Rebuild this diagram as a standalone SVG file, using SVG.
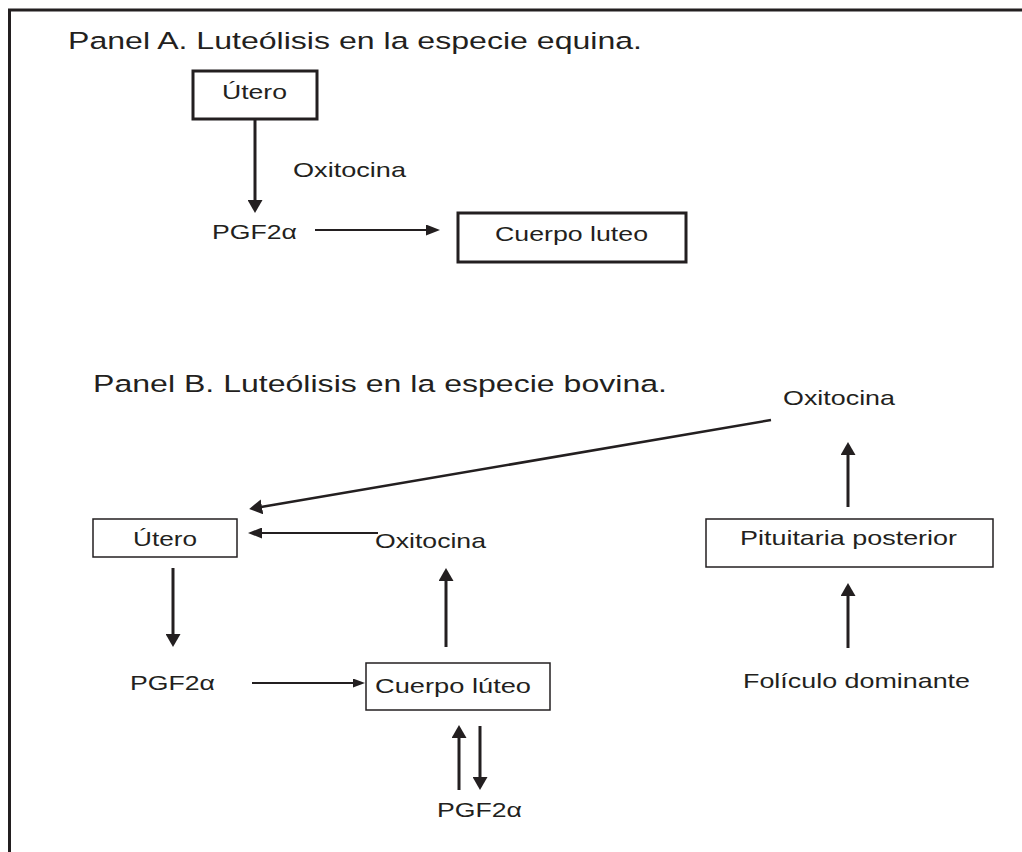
<svg xmlns="http://www.w3.org/2000/svg" width="1022" height="852" viewBox="0 0 1022 852">
<style>
text{font-family:"Liberation Sans",Arial,sans-serif;fill:#231f20}
.t{font-size:24.5px}
.l{font-size:21px}
.box{fill:none;stroke:#231f20}
.thick{stroke-width:3}
.thin{stroke-width:1.5}
.c line{stroke:#231f20}
</style>
<defs>
<marker id="big" markerUnits="userSpaceOnUse" markerWidth="14" markerHeight="15" refX="1" refY="7.5" orient="auto" viewBox="0 0 14 15">
<path d="M0,0 L13,7.5 L0,15 z" fill="#231f20"/>
</marker>
<marker id="small" markerUnits="userSpaceOnUse" markerWidth="15" markerHeight="11" refX="1" refY="5.5" orient="auto" viewBox="0 0 15 11">
<path d="M0,0 L14,5.5 L0,11 z" fill="#231f20"/>
</marker>
<marker id="tiny" markerUnits="userSpaceOnUse" markerWidth="13" markerHeight="9" refX="1" refY="4.5" orient="auto" viewBox="0 0 13 9">
<path d="M0,0 L12,4.5 L0,9 z" fill="#231f20"/>
</marker>
</defs>
<rect width="1022" height="852" fill="#fff"/>
<path d="M8,10 H1022 M9.5,10 V852" fill="none" stroke="#231f20" stroke-width="3"/>

<g id="titleA"><text class="t" x="68" y="49" textLength="574" lengthAdjust="spacingAndGlyphs">Panel A. Luteólisis en la especie equina.</text></g>
<g id="uteroA"><rect class="box thick" x="193" y="71" width="124" height="48"/><text class="l" x="222" y="99" textLength="65" lengthAdjust="spacingAndGlyphs">Útero</text></g>
<g id="oxiA"><text class="l" x="293" y="177" textLength="113" lengthAdjust="spacingAndGlyphs">Oxitocina</text></g>
<g id="pgfA"><text class="l" x="212" y="239" textLength="85" lengthAdjust="spacingAndGlyphs">PGF2α</text></g>
<g id="clA"><rect class="box thick" x="458" y="213" width="228" height="49"/><text class="l" x="495" y="241" textLength="153" lengthAdjust="spacingAndGlyphs">Cuerpo luteo</text></g>

<g id="titleB"><text class="t" x="93" y="392" textLength="574" lengthAdjust="spacingAndGlyphs">Panel B. Luteólisis en la especie bovina.</text></g>
<g id="oxiTop"><text class="l" x="783" y="405" textLength="112" lengthAdjust="spacingAndGlyphs">Oxitocina</text></g>
<g id="uteroB"><rect class="box thin" x="93" y="519" width="144" height="38"/><text class="l" x="133" y="546" textLength="64" lengthAdjust="spacingAndGlyphs">Útero</text></g>
<g id="oxiMid"><text class="l" x="375" y="548" textLength="111" lengthAdjust="spacingAndGlyphs">Oxitocina</text></g>
<g id="pit"><rect class="box thin" x="706" y="519" width="287" height="48"/><text class="l" x="740" y="545" textLength="217" lengthAdjust="spacingAndGlyphs">Pituitaria posterior</text></g>
<g id="pgfB"><text class="l" x="130" y="690" textLength="85" lengthAdjust="spacingAndGlyphs">PGF2α</text></g>
<g id="clB"><rect class="box thin" x="366" y="663" width="184" height="47"/><text class="l" x="375" y="693" textLength="156" lengthAdjust="spacingAndGlyphs">Cuerpo lúteo</text></g>
<g id="fol"><text class="l" x="743" y="688" textLength="227" lengthAdjust="spacingAndGlyphs">Folículo dominante</text></g>
<g id="pgfBottom"><text class="l" x="437" y="817" textLength="85" lengthAdjust="spacingAndGlyphs">PGF2α</text></g>

<g id="connectors" class="c">
<line x1="255" y1="119" x2="255" y2="201" stroke-width="3" marker-end="url(#big)"/>
<line x1="315" y1="230" x2="427" y2="230" stroke-width="2" marker-end="url(#small)"/>
<line x1="771" y1="420" x2="261" y2="507" stroke-width="2.5" marker-end="url(#big)"/>
<line x1="378" y1="533" x2="261" y2="533" stroke-width="2" marker-end="url(#small)"/>
<line x1="173" y1="568" x2="173" y2="635" stroke-width="3" marker-end="url(#big)"/>
<line x1="252" y1="683" x2="354" y2="683" stroke-width="2" marker-end="url(#tiny)"/>
<line x1="446" y1="647" x2="446" y2="580" stroke-width="3" marker-end="url(#big)"/>
<line x1="459" y1="790" x2="459" y2="737" stroke-width="3" marker-end="url(#big)"/>
<line x1="480" y1="726" x2="480" y2="778" stroke-width="3" marker-end="url(#big)"/>
<line x1="848" y1="507" x2="848" y2="454" stroke-width="3" marker-end="url(#big)"/>
<line x1="848" y1="648" x2="848" y2="595" stroke-width="3" marker-end="url(#big)"/>
</g>
</svg>
